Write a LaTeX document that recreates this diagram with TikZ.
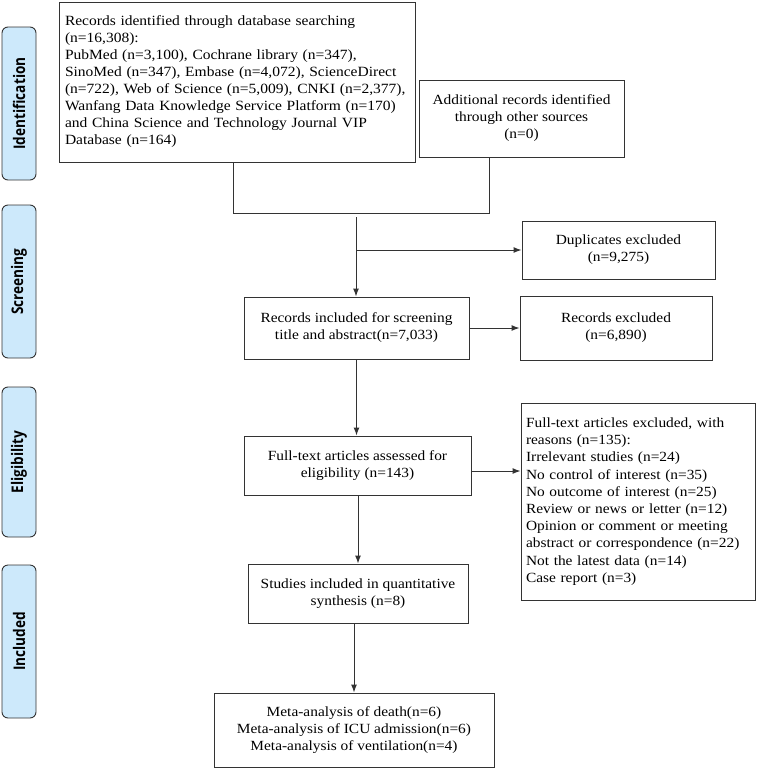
\documentclass[tikz,border=0pt]{standalone}
\usepackage{fontspec}
\setmainfont[FakeStretch=1.1]{Liberation Serif}
\newfontfamily\stagefont[FakeStretch=0.85]{Open Sans}
\usepackage{tikz}
\usetikzlibrary{arrows.meta}

\definecolor{stageblue}{HTML}{CDE9FB}
\definecolor{edgegray}{HTML}{333333}

\begin{document}
\begin{tikzpicture}[x=1pt,y=-1pt,
    box/.style={draw=edgegray,line width=1pt,inner sep=0pt,align=center,
                font=\fontsize{14}{17}\selectfont},
    stage/.style={draw=edgegray,line width=0.9pt,fill=stageblue,rounded corners=6pt,
                  minimum width=34pt,inner sep=0pt},
    flow/.style={line width=1pt,edgegray},
    arr/.style={flow,-{Latex[length=8pt,width=6pt]}}]
  \useasboundingbox (0,0) rectangle (758,769);
  % stage labels on the left
  \foreach \name/\ya/\yb in {Identification/27/180,Screening/205/358,Eligibility/387/537,Included/565/718}
    \node[stage,minimum height={\yb-\ya}] (lab\name) at (19,{(\ya+\yb)/2})
      {\rotatebox{90}{\stagefont\fontsize{16}{18}\selectfont\bfseries \name}};
  % boxes
  \node[box,minimum width=356,minimum height=160,text width=344,align=left,
        font=\fontsize{14.1}{17}\selectfont] (db) at (237,82)
    {Records identified through database searching\\
     (n=16,308):\\
     PubMed (n=3,100), Cochrane library (n=347),\\
     SinoMed (n=347), Embase (n=4,072), ScienceDirect\\
     \mbox{(n=722), Web of Science (n=5,009), CNKI (n=2,377),}\\
     \mbox{Wanfang Data Knowledge Service Platform (n=170)}\\
     and China Science and Technology Journal VIP\\
     Database (n=164)};
  \node[box,minimum width=205,minimum height=77] (add) at (521.5,118.5)
    {Additional records identified\\ through other sources\\ (n=0)};
  \node[box,minimum width=193,minimum height=58] (dup) at (618.5,250)
    {Duplicates excluded\\ (n=9,275)};
  \node[box,minimum width=225,minimum height=62] (rec) at (356.5,328)
    {Records included for screening\\ title and abstract(n=7,033)};
  \node[box,minimum width=192,minimum height=64] (recex) at (616,328)
    {Records excluded\\ (n=6,890)};
  \node[box,minimum width=227,minimum height=59] (full) at (357.5,465.5)
    {Full-text articles assessed for\\ eligibility (n=143)};
  \node[box,minimum width=234,minimum height=197,text width=224,align=left,
        font=\fontsize{14}{17.2}\selectfont] (ftex) at (638,501.5)
    {Full-text articles excluded, with\\
     reasons (n=135):\\
     Irrelevant studies (n=24)\\
     No control of interest (n=35)\\
     No outcome of interest (n=25)\\
     Review or news or letter (n=12)\\
     Opinion or comment or meeting\\
     abstract or correspondence (n=22)\\
     Not the latest data (n=14)\\
     Case report (n=3)};
  \node[box,minimum width=220,minimum height=59] (stud) at (358,593.5)
    {Studies included in quantitative\\ synthesis (n=8)};
  \node[box,minimum width=280,minimum height=74] (meta) at (354,730)
    {Meta-analysis of death(n=6)\\ Meta-analysis of ICU admission(n=6)\\ Meta-analysis of ventilation(n=4)};
  % connectors
  \coordinate (join) at (356,217);
  \coordinate (mainleg) at (233,213);
  \coordinate (addleg) at (489,213);
  \draw[flow] (db.south -| mainleg) -- (mainleg) -- (addleg) -- (add.south -| addleg);
  \draw[arr] (join) -- (rec.north -| join);
  \draw[arr] (join |- dup.west) -- (dup.west);
  \draw[arr] (rec.east) -- (recex.west);
  \draw[arr] (rec.south) -- (full.north -| rec.south);
  \coordinate (ftarrow) at (full.east |- 0,471);
  \draw[arr] (ftarrow) -- (ftex.west |- ftarrow);
  \draw[arr] (full.south -| stud.north) -- (stud.north);
  \draw[arr] (stud.south -| meta.north) -- (meta.north);
\end{tikzpicture}
\end{document}
